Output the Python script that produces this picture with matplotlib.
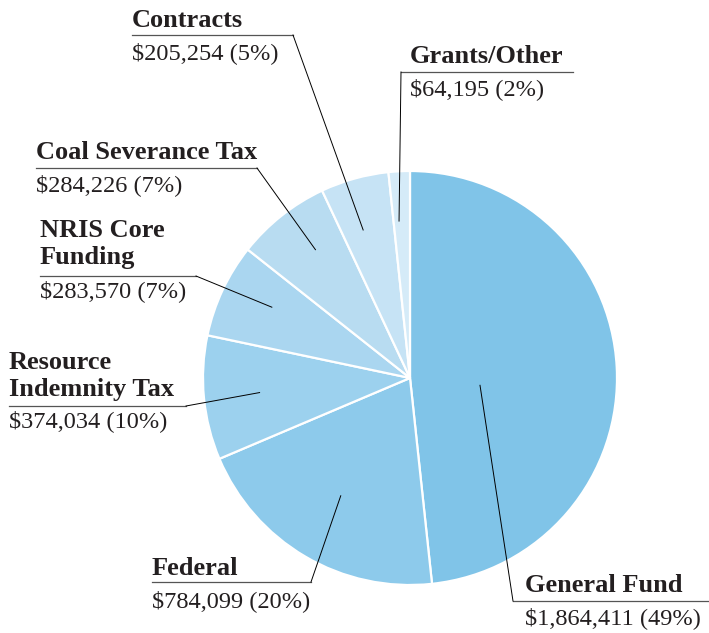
import numpy as np
import matplotlib
matplotlib.use("Agg")
import matplotlib.pyplot as plt

# Funding sources (dollars)
sources = ["General Fund", "Federal", "Resource\nIndemnity Tax", "NRIS Core\nFunding",
           "Coal Severance Tax", "Contracts", "Grants/Other"]
amounts = [1864411, 784099, 374034, 283570, 284226, 205254, 64195]
percent_labels = ["49%", "20%", "10%", "7%", "7%", "5%", "2%"]

colors = ["#80C4E8", "#8DCAEB", "#9CD1EE", "#AAD6F0", "#B8DCF1", "#C6E3F5", "#D5EBF8"]

W, H = 709, 633
def iy(y):
    # image y (top-down) to axes y
    return H - y

# label layout in image pixels: text x, title baseline, value baseline,
# underline y, underline x0/x1, which end the leader starts from
layout = [
    dict(x=525, ty=592, vy=624, uy=601, ux=(513, 709), end=0, r=0.34, da=-9),
    dict(x=152, ty=575, vy=607, uy=582, ux=(152, 311), end=1, r=0.66, da=0),
    dict(x=9, ty=396, vy=427, uy=406, ux=(9, 186), end=1, r=0.73, da=0),
    dict(x=40, ty=264, vy=297, uy=276, ux=(40, 196), end=1, r=0.75, da=-2),
    dict(x=36, ty=159, vy=191, uy=168, ux=(36, 257), end=1, r=0.77, da=-2),
    dict(x=132, ty=27, vy=59, uy=35, ux=(132, 293), end=1, r=0.75, da=2),
    dict(x=410, ty=63, vy=95, uy=72, ux=(401, 573), end=0, r=0.76, da=1),
]

plt.rcParams['font.family'] = ['Liberation Serif', 'DejaVu Serif']
txt_color = "#231F20"

fig = plt.figure(figsize=(7.09, 6.33), dpi=100)
ax = fig.add_axes([0, 0, 1, 1])

cx, cy, R = 410, iy(378), 207
wedges, _ = ax.pie(amounts, colors=colors, startangle=90, counterclock=False,
                   center=(cx, cy), radius=R,
                   wedgeprops=dict(edgecolor="white", linewidth=1.6))

ax.set_xlim(0, W)
ax.set_ylim(0, H)
ax.set_aspect("equal")
ax.axis("off")

for w, name, amt, pct, lay in zip(wedges, sources, amounts, percent_labels, layout):
    # title (may be two lines, stacked upward from baseline)
    lines = name.split("\n")
    for k, line in enumerate(reversed(lines)):
        ax.text(lay["x"], iy(lay["ty"] - 27 * k), line, fontsize=19, fontweight="bold",
                color=txt_color, va="baseline", ha="left")
    ax.text(lay["x"], iy(lay["vy"]), f"${amt:,} ({pct})", fontsize=17.6,
            color=txt_color, va="baseline", ha="left")
    x0, x1 = lay["ux"]
    ax.plot([x0, x1], [iy(lay["uy"])] * 2, color="#555555", lw=0.9)
    # leader line from underline end into the wedge
    ang = np.deg2rad((w.theta1 + w.theta2) / 2 + lay["da"])
    tx = cx + lay["r"] * R * np.cos(ang)
    ty = cy + lay["r"] * R * np.sin(ang)
    sx = x0 if lay["end"] == 0 else x1
    ax.plot([sx, tx], [iy(lay["uy"]), ty], color="black", lw=0.7)

fig.savefig("out.png", dpi=100)
